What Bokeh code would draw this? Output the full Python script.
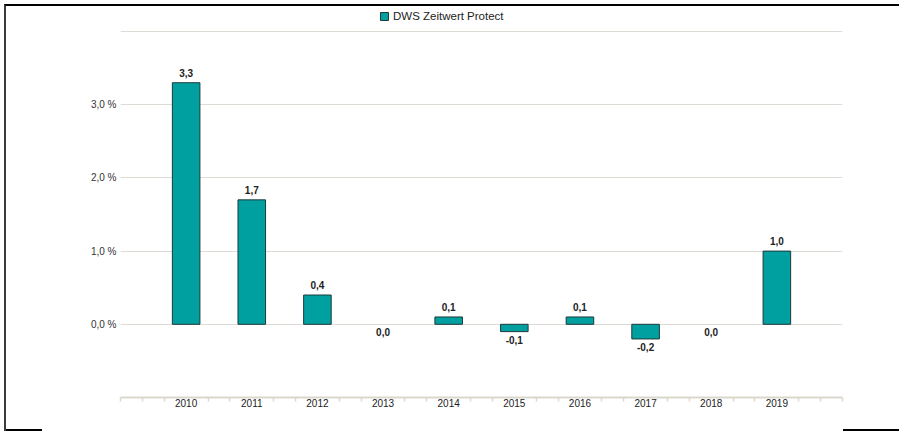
from bokeh.plotting import figure
from bokeh.models import Range1d, FixedTicker, ColumnDataSource, Legend, LegendItem
from bokeh.core.properties import value as V
from bokeh.embed import file_html
from bokeh.resources import INLINE

# ---- data ----
series_name = "DWS Zeitwert Protect"
years = [2010, 2011, 2012, 2013, 2014, 2015, 2016, 2017, 2018, 2019]
values = [3.3, 1.7, 0.4, 0.0, 0.1, -0.1, 0.1, -0.2, 0.0, 1.0]
y_ticks = [-1, 0, 1, 2, 3, 4]
y_tick_labels = {-1: "", 0: "0,0 %", 1: "1,0 %", 2: "2,0 %", 3: "3,0 %", 4: ""}
x_start, x_end = 2009, 2020
y_start, y_end = -1, 4.314

FONT = "Liberation Sans"
TEAL = "#00a0a0"
BEIGE = "#dcd7cc"

labels = [f"{v:.1f}".replace(".", ",") for v in values]

p = figure(width=895, height=427, output_backend="svg", toolbar_location=None,
           title=None, x_range=Range1d(x_start, x_end), y_range=Range1d(y_start, y_end),
           min_border_left=114, min_border_right=59, min_border_top=2,
           min_border_bottom=36)
p.styles = {"margin-left": "4px", "margin-top": "4px",
            "border-top": "2px solid #000000", "border-left": "2px solid #3c3c3c",
            "background": ("linear-gradient(#000,#000) 0 100% / 36px 2px no-repeat, "
                           "linear-gradient(#000,#000) 100% 100% / 56px 2px no-repeat, #ffffff")}
p.outline_line_color = None
p.background_fill_color = "white"
p.border_fill_color = None

src = ColumnDataSource(dict(x=years, top=values, label=labels,
                            la=[0 if v == 0 else 1 for v in values]))
bars = p.vbar(x="x", top="top", bottom=0, width=0.42, source=src,
              fill_color=TEAL, line_color="#1c3a3a", line_width=1, line_alpha="la")

pos = [i for i, v in enumerate(values) if v > 0]
neg = [i for i, v in enumerate(values) if v <= 0]
src_pos = ColumnDataSource(dict(x=[years[i] for i in pos], y=[values[i] for i in pos],
                                t=[labels[i] for i in pos]))
src_neg = ColumnDataSource(dict(x=[years[i] for i in neg], y=[values[i] for i in neg],
                                t=[labels[i] for i in neg]))
p.text(x="x", y="y", text="t", source=src_pos, text_align="center",
       text_baseline="bottom", y_offset=-6, text_font=V(FONT),
       text_font_size="10px", text_font_style="bold", text_color="#222222")
p.text(x="x", y="y", text="t", source=src_neg, text_align="center",
       text_baseline="top", y_offset=4, text_font=V(FONT),
       text_font_size="10px", text_font_style="bold", text_color="#222222")

# ---- axes ----
minor = []
for y in range(x_start, x_end):
    if y == x_start:
        minor.append(y)
    minor += [y + 1 / 3, y + 2 / 3]
minor.append(x_end)

xa = p.xaxis[0]
xa.ticker = FixedTicker(ticks=years, minor_ticks=minor)
xa.major_label_overrides = {y: str(y) for y in years}
xa.axis_line_color = BEIGE
xa.axis_line_width = 2
xa.major_tick_out = 0
xa.major_tick_in = 0
xa.minor_tick_out = 4
xa.minor_tick_in = 0
xa.minor_tick_line_color = BEIGE
xa.minor_tick_line_width = 1.5
xa.major_label_standoff = -3
xa.major_label_text_font = FONT
xa.major_label_text_font_size = "10px"
xa.major_label_text_color = "#222222"

ya = p.yaxis[0]
ya.ticker = FixedTicker(ticks=y_ticks)
ya.major_label_overrides = y_tick_labels
ya.axis_line_color = None
ya.major_tick_out = 0
ya.major_tick_in = 0
ya.minor_tick_line_color = None
ya.major_label_standoff = 4
ya.major_label_text_font = FONT
ya.major_label_text_font_size = "10px"
ya.major_label_text_color = "#333333"

p.xgrid.grid_line_color = None
p.ygrid.ticker = FixedTicker(ticks=y_ticks)
p.ygrid.grid_line_color = "#dedbd4"
p.ygrid.grid_line_width = 1

# ---- legend ----
legend = Legend(items=[LegendItem(label=series_name, renderers=[bars])],
                location=(259, 375), orientation="horizontal", padding=0, margin=0,
                glyph_width=10, glyph_height=10, label_height=10, label_standoff=4,
                label_text_font=FONT, label_text_font_size="11.5px",
                label_text_color="#222222", background_fill_alpha=0,
                border_line_color=None)
p.add_layout(legend)

open("out.html", "w").write(file_html(p, INLINE))
